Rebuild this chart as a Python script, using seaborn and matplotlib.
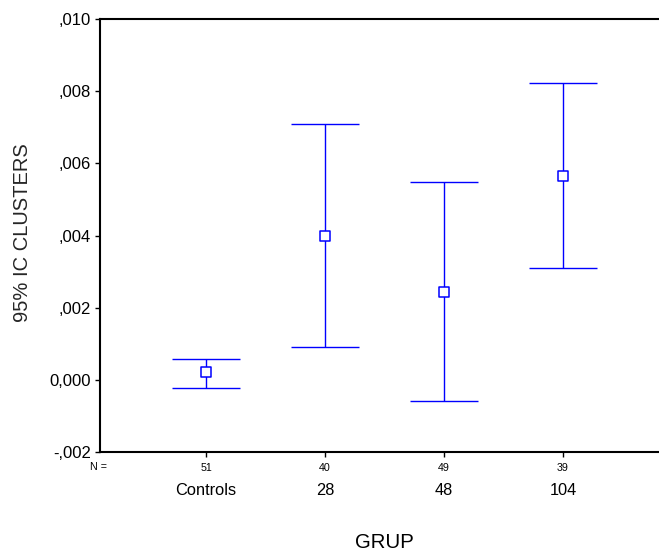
import matplotlib
matplotlib.use("Agg")
import matplotlib.pyplot as plt
import matplotlib.transforms as mtransforms
import seaborn as sns
import pandas as pd

# Group data: means and 95% confidence limits of CLUSTERS
groups = ["Controls", "28", "48", "104"]
n_values = ["51", "40", "49", "39"]
means = [0.00021, 0.00398, 0.00245, 0.00566]
ci_low = [-0.00022, 0.00091, -0.00058, 0.00310]
ci_high = [0.00058, 0.00708, 0.00548, 0.00821]
y_ticks = [-0.002, 0.0, 0.002, 0.004, 0.006, 0.008, 0.010]
y_tick_labels = ["-,002", "0,000", ",002", ",004", ",006", ",008", ",010"]

sns.set_theme(style="white")
plt.rcParams["font.family"] = ["Liberation Sans", "DejaVu Sans"]

df = pd.DataFrame({
    "pos": range(len(groups)),
    "mean": means,
    "low": ci_low,
    "high": ci_high,
})

fig = plt.figure(figsize=(6.59, 5.54), dpi=100)
ax = fig.add_axes([0.1517, 0.1836, 0.8483, 0.7826])

blue = "#0000ff"
ax.errorbar(df["pos"], df["mean"],
            yerr=[df["mean"] - df["low"], df["high"] - df["mean"]],
            fmt="none", ecolor=blue, elinewidth=1.0, capsize=24.8,
            capthick=1.0, zorder=2)
sns.scatterplot(data=df, x="pos", y="mean", ax=ax, marker="s", s=42,
                facecolor="white", edgecolor=blue, linewidth=1.1, zorder=3,
                legend=False)

ax.set_xlim(-0.891, 3.807)
ax.set_ylim(-0.002, 0.010)
ax.set_yticks(y_ticks)
ax.set_yticklabels(y_tick_labels, fontsize=12)
ax.set_xticks(df["pos"])
ax.set_xticklabels(n_values, fontsize=7.7)

for side in ["left", "bottom", "top"]:
    ax.spines[side].set_color("black")
    ax.spines[side].set_linewidth(1.5)
ax.spines["right"].set_visible(False)

ax.tick_params(axis="y", direction="out", length=3.6, width=1.0,
               pad=2.9, left=True, colors="black")
ax.tick_params(axis="x", direction="out", length=3.6, width=1.0,
               pad=4.3, bottom=True, colors="black")

ax.set_xlabel("")
ax.set_ylabel("95% IC CLUSTERS", fontsize=14.5, labelpad=0)
ax.yaxis.set_label_coords(-0.121, 0.507)

# Group names below the N row, and the N = caption at the axis start
trans = mtransforms.blended_transform_factory(ax.transData, ax.transAxes)
for x, name in zip(df["pos"], groups):
    ax.text(x, -0.088, name, transform=trans, ha="center", va="center",
            fontsize=11.8, color="black")
ax.text(-0.002, -0.0337, "N =", transform=ax.transAxes, ha="center",
        va="center", fontsize=7.7, color="black")

fig.text(384.5 / 659, 1 - 543 / 554, "GRUP", ha="center", va="center",
         fontsize=14.7, color="black")

fig.savefig("out.png", dpi=100, facecolor="white")
